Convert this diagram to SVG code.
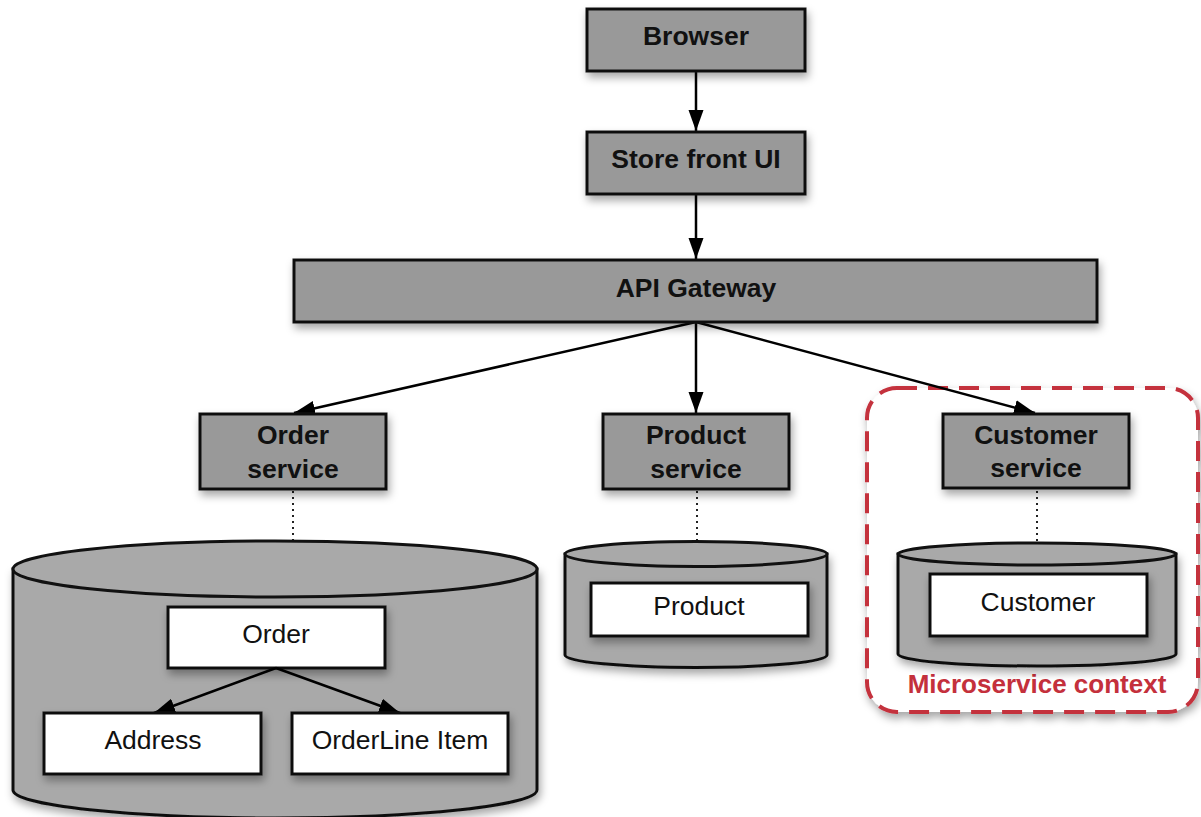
<svg xmlns="http://www.w3.org/2000/svg" width="1201" height="817" viewBox="0 0 1201 817">
<style>
.svc{fill:#999;stroke:#111;stroke-width:3}
.ent{fill:#fff;stroke:#111;stroke-width:3}
.cyl{fill:#a9a9a9;stroke:#111;stroke-width:3}
.b{font-family:"Liberation Sans",Arial,sans-serif;font-weight:bold;font-size:26.5px;fill:#111;text-anchor:middle}
.r{font-family:"Liberation Sans",Arial,sans-serif;font-size:26.5px;fill:#111;text-anchor:middle}
.arrow{stroke:#000;stroke-width:2.5;fill:none;marker-end:url(#ah)}
.dot{stroke:#222;stroke-width:2;stroke-dasharray:2 4;fill:none}
</style>
<defs>
<filter id="sh" x="-20%" y="-20%" width="140%" height="150%">
<feDropShadow dx="2" dy="5" stdDeviation="4" flood-color="#000" flood-opacity="0.35"/>
</filter>
<marker id="ah" markerUnits="userSpaceOnUse" markerWidth="22" markerHeight="18" viewBox="0 0 22 18" refX="21" refY="9" orient="auto">
<path d="M0,1.5 L21,9 L0,16.5 Z" fill="#000"/>
</marker>
</defs>
<rect width="1201" height="817" fill="#fff"/>

<g id="context">
<rect x="867" y="388" width="331" height="324" rx="30" fill="#fff" stroke="#c4303c" stroke-width="4" stroke-dasharray="20 11" filter="url(#sh)"/>
<text x="1037" y="693" font-family="Liberation Sans,Arial,sans-serif" font-weight="bold" font-size="26" fill="#c4303c" text-anchor="middle">Microservice context</text>
</g>

<g id="connectors">
<line class="arrow" x1="696" y1="71" x2="696" y2="131"/>
<line class="arrow" x1="696" y1="194" x2="696" y2="259"/>
<line class="arrow" x1="696" y1="322" x2="294" y2="413"/>
<line class="arrow" x1="696" y1="322" x2="696" y2="413"/>
<line class="arrow" x1="696" y1="322" x2="1035" y2="413"/>
<line class="dot" x1="293" y1="491" x2="293" y2="541"/>
<line class="dot" x1="697" y1="491" x2="697" y2="541"/>
<line class="dot" x1="1037" y1="491" x2="1037" y2="541"/>
</g>

<g id="browser">
<rect class="svc" x="587" y="9" width="218" height="62" filter="url(#sh)"/>
<text class="b" x="696" y="45">Browser</text>
</g>
<g id="storefront">
<rect class="svc" x="587" y="132" width="218" height="62" filter="url(#sh)"/>
<text class="b" x="696" y="168">Store front UI</text>
</g>
<g id="apigateway">
<rect class="svc" x="294" y="260" width="803" height="62" filter="url(#sh)"/>
<text class="b" x="696" y="297">API Gateway</text>
</g>
<g id="orderservice">
<rect class="svc" x="200" y="414" width="186" height="75" filter="url(#sh)"/>
<text class="b" x="293" y="444">Order</text>
<text class="b" x="293" y="478">service</text>
</g>
<g id="productservice">
<rect class="svc" x="603" y="414" width="186" height="75" filter="url(#sh)"/>
<text class="b" x="696" y="444">Product</text>
<text class="b" x="696" y="478">service</text>
</g>
<g id="customerservice">
<rect class="svc" x="943" y="414" width="186" height="74" filter="url(#sh)"/>
<text class="b" x="1036" y="444">Customer</text>
<text class="b" x="1036" y="477">service</text>
</g>

<g id="orderdb">
<path class="cyl" d="M13,569 L13,790 A262,28 0 0 0 537,790 L537,569 Z" filter="url(#sh)"/>
<ellipse class="cyl" cx="275" cy="569" rx="262" ry="28"/>
</g>
<g id="order">
<rect class="ent" x="168" y="607" width="217" height="61" filter="url(#sh)"/>
<text class="r" x="276" y="643">Order</text>
</g>
<g id="orderinner">
<line class="arrow" x1="276" y1="668" x2="154" y2="713"/>
<line class="arrow" x1="276" y1="668" x2="400" y2="713"/>
</g>
<g id="address">
<rect class="ent" x="44" y="713" width="217" height="61" filter="url(#sh)"/>
<text class="r" x="153" y="749">Address</text>
</g>
<g id="orderline">
<rect class="ent" x="292" y="713" width="216" height="61" filter="url(#sh)"/>
<text class="r" x="400" y="749">OrderLine Item</text>
</g>

<g id="productdb">
<path class="cyl" d="M565,554 L565,655 A131,12.5 0 0 0 827,655 L827,554 Z" filter="url(#sh)"/>
<ellipse class="cyl" cx="696" cy="554" rx="131" ry="12.5"/>
<rect class="ent" x="591" y="583" width="217" height="53" filter="url(#sh)"/>
<text class="r" x="699" y="615">Product</text>
</g>

<g id="customerdb">
<path class="cyl" d="M898,554 L898,654 A139,12 0 0 0 1176,654 L1176,554 Z" filter="url(#sh)"/>
<ellipse class="cyl" cx="1037" cy="554" rx="139" ry="11"/>
<rect class="ent" x="930" y="574" width="217" height="62" filter="url(#sh)"/>
<text class="r" x="1038" y="611">Customer</text>
</g>
</svg>
